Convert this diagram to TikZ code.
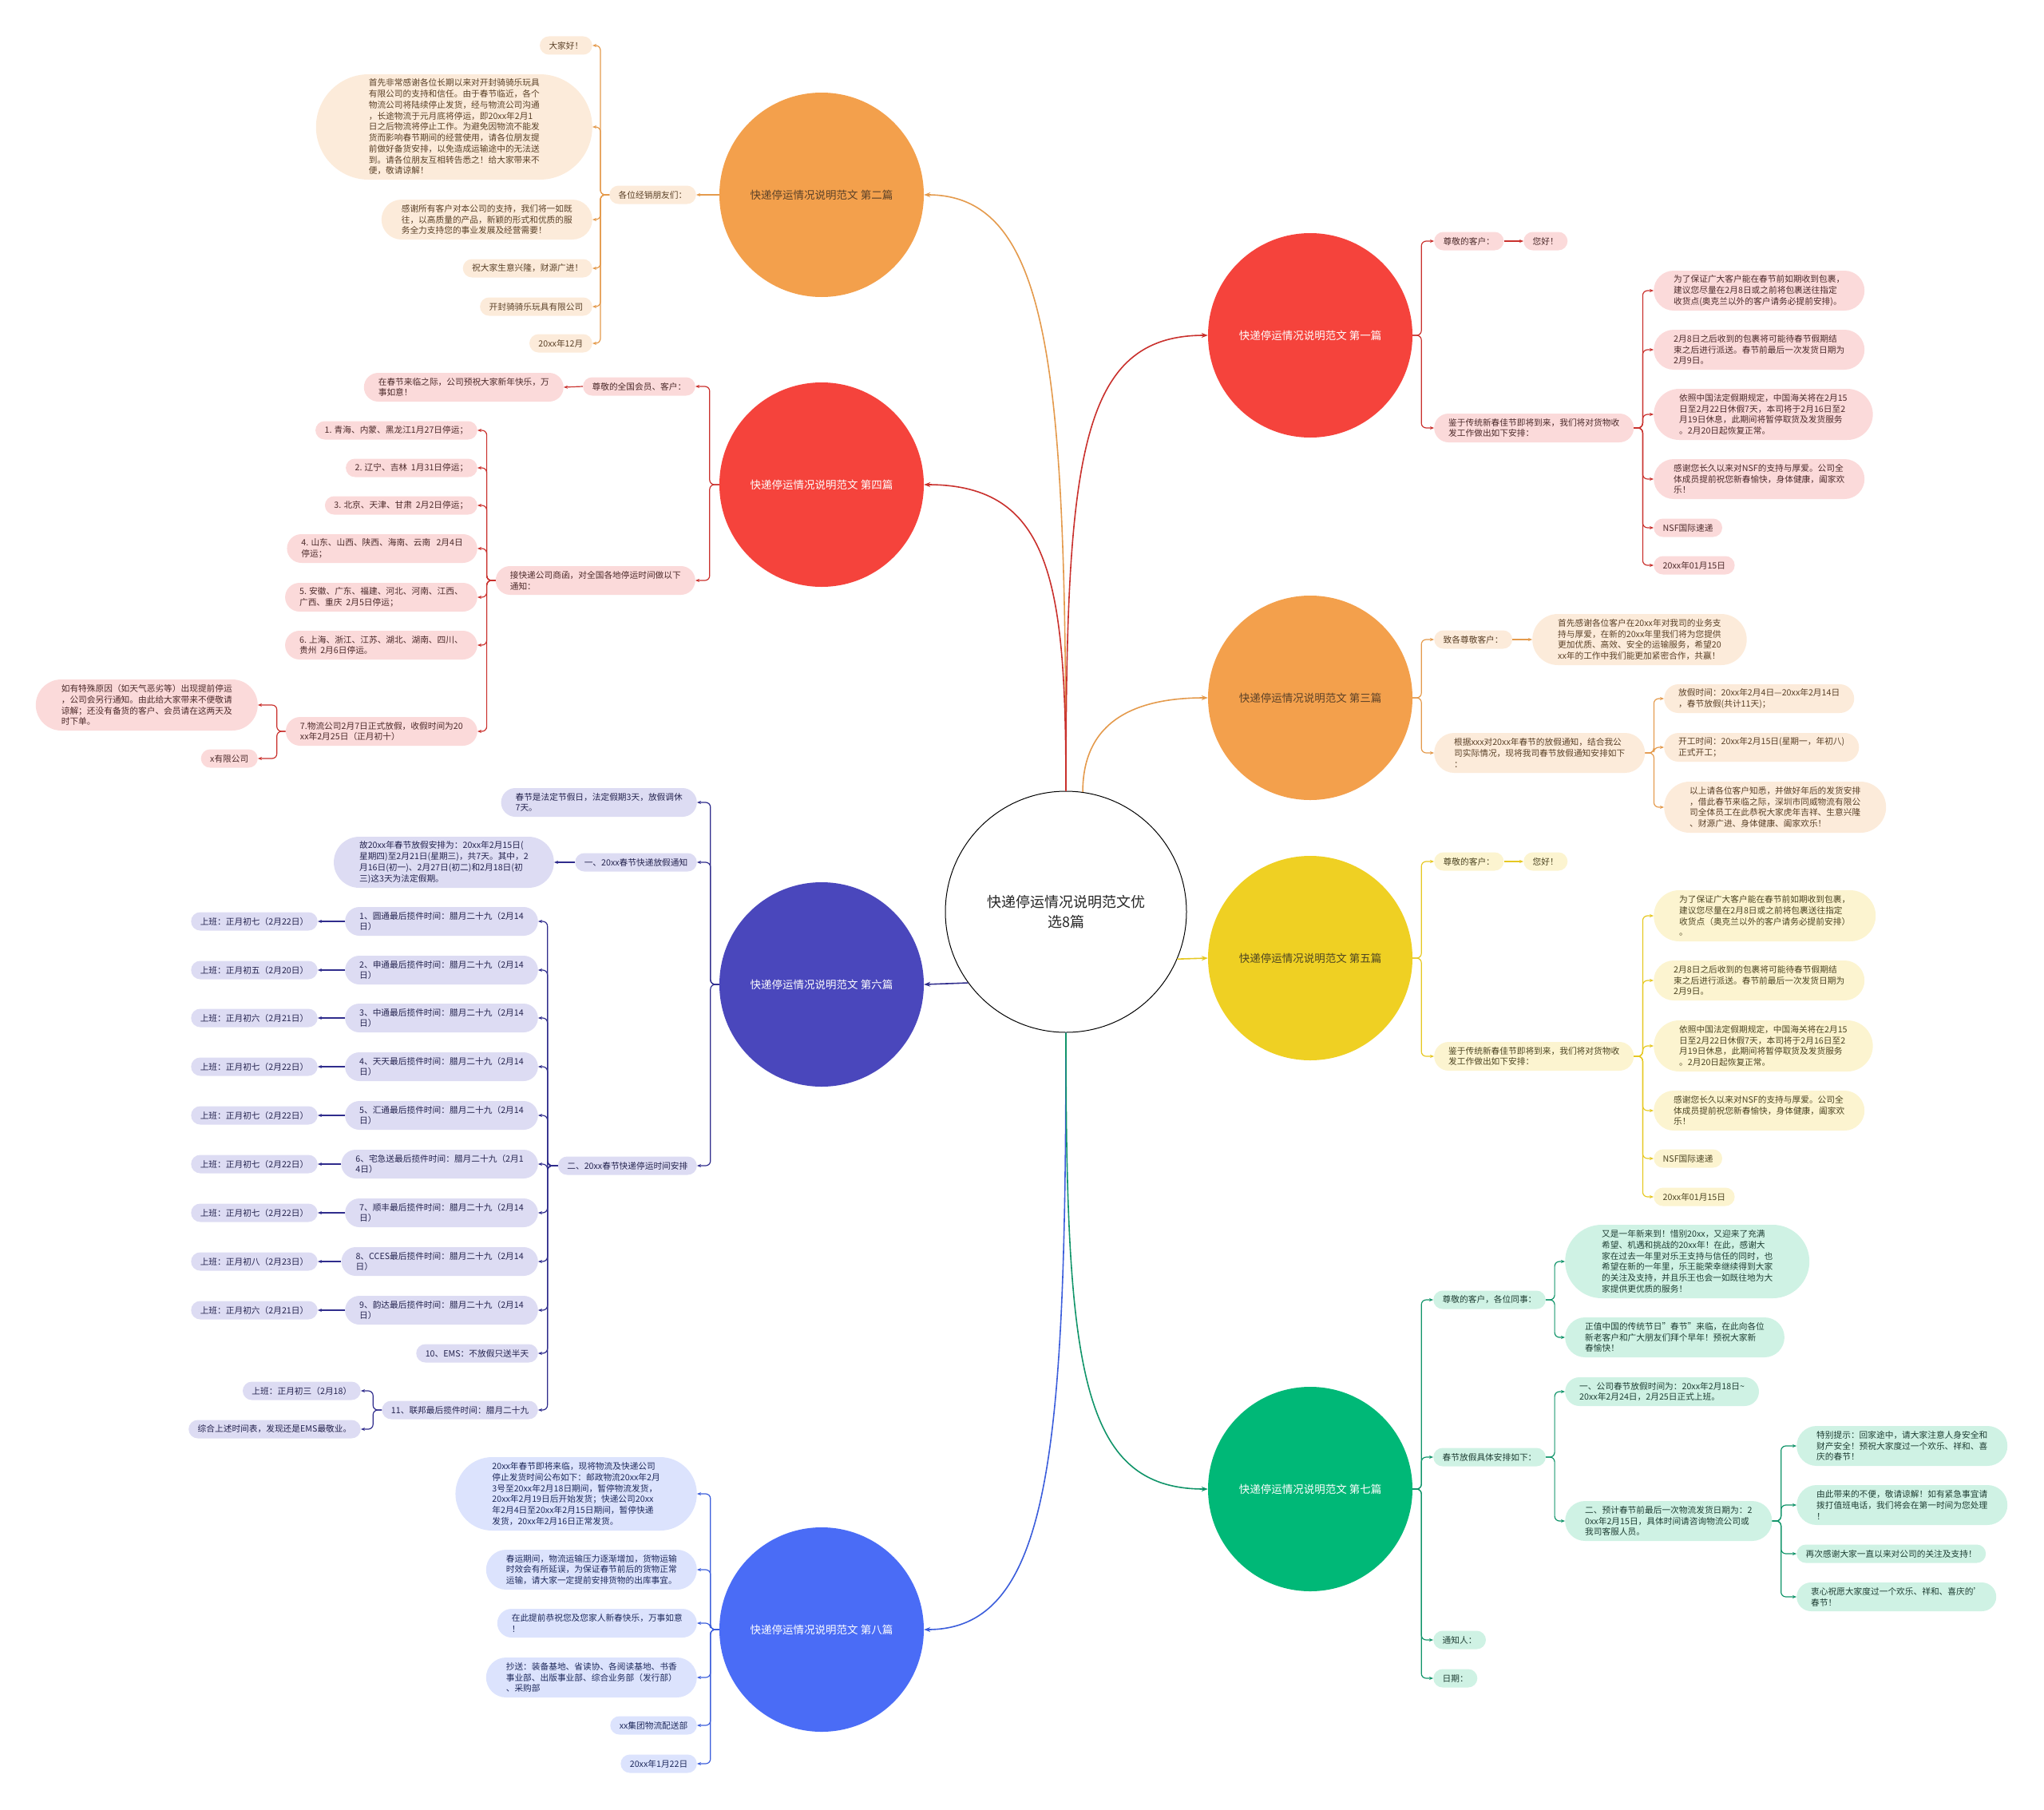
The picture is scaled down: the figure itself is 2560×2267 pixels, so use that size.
\documentclass[tikz,border=0pt]{standalone}
\usepackage{fontspec}
\setmainfont{Noto Sans CJK SC}
\usetikzlibrary{arrows.meta, positioning}

\definecolor{cOr}{HTML}{F3A04C}
\definecolor{cRd}{HTML}{F5433C}
\definecolor{cIn}{HTML}{4A47BC}
\definecolor{cBl}{HTML}{4A6CF6}
\definecolor{cYe}{HTML}{EFD023}
\definecolor{cGr}{HTML}{00B877}
\definecolor{fOr}{HTML}{FCEBDA}
\definecolor{fRd}{HTML}{FBDADA}
\definecolor{fIn}{HTML}{DDDCF3}
\definecolor{fBl}{HTML}{DCE3FD}
\definecolor{fYe}{HTML}{FCF4D0}
\definecolor{fGr}{HTML}{CFF2E4}
\definecolor{lOr}{HTML}{E49A4C}
\definecolor{lRd}{HTML}{C9302C}
\definecolor{lIn}{HTML}{2F2C8C}
\definecolor{lBl}{HTML}{3B5DDB}
\definecolor{lYe}{HTML}{E6C822}
\definecolor{lGr}{HTML}{109469}
\definecolor{tOr}{HTML}{5B4128}
\definecolor{tRd}{HTML}{4D2B2B}
\definecolor{tIn}{HTML}{25244F}
\definecolor{tBl}{HTML}{1F2A5C}
\definecolor{tYe}{HTML}{4D4522}
\definecolor{tGr}{HTML}{203F35}

\begin{document}
\begin{tikzpicture}[x=1pt, y=-1pt, >=Stealth,
    leaf/.style={rectangle, rounded corners=#1, inner xsep=#1, inner ysep=0pt, minimum height=2*#1,
                 align=left, font=\fontsize{10.7}{13.75}\selectfont},
    lOr/.style={leaf=#1, fill=fOr, text=tOr}, lOr/.default=11.5,
    lRd/.style={leaf=#1, fill=fRd, text=tRd}, lRd/.default=11.5,
    lIn/.style={leaf=#1, fill=fIn, text=tIn}, lIn/.default=11.5,
    lBl/.style={leaf=#1, fill=fBl, text=tBl}, lBl/.default=11.5,
    lYe/.style={leaf=#1, fill=fYe, text=tYe}, lYe/.default=11.5,
    lGr/.style={leaf=#1, fill=fGr, text=tGr}, lGr/.default=11.5,
    topic/.style={circle, minimum size=256pt, inner sep=0pt, font=\fontsize{13.5}{16}\selectfont},
    mainln/.style={draw=#1, line width=1.6pt, -{Stealth[length=8pt, width=6pt]}},
    br/.style={draw=#1, line width=1.2pt, rounded corners=6pt, -{Stealth[length=5pt, width=4pt]}}]
\useasboundingbox (0,0) rectangle (2560,2267);

% centre
\node[circle, draw=black, line width=1pt, fill=white, minimum size=302pt, align=center,
      font=\fontsize{18}{25}\selectfont, text=black!85] (root) at (1335,1142) {快递停运情况说明范文优\\选8篇};

% topics
\node[topic, fill=cOr, text=tOr] (c2) at (1029,244) {快递停运情况说明范文 第二篇};
\node[topic, fill=cRd, text=white] (c4) at (1029,607) {快递停运情况说明范文 第四篇};
\node[topic, fill=cIn, text=white] (c6) at (1029,1233) {快递停运情况说明范文 第六篇};
\node[topic, fill=cBl, text=white] (c8) at (1029,2041) {快递停运情况说明范文 第八篇};
\node[topic, fill=cRd, text=white] (c1) at (1641,420) {快递停运情况说明范文 第一篇};
\node[topic, fill=cOr, text=tOr] (c3) at (1641,874) {快递停运情况说明范文 第三篇};
\node[topic, fill=cYe, text=tYe] (c5) at (1641,1200) {快递停运情况说明范文 第五篇};
\node[topic, fill=cGr, text=white] (c7) at (1641,1865) {快递停运情况说明范文 第七篇};

\draw[mainln=lOr] (root.north) .. controls +(0,-520) and +(160,0) .. (c2.east);
\draw[mainln=lRd] (root.north) .. controls +(0,-260) and +(160,0) .. (c4.east);
\draw[mainln=lIn] (root.216) -- (c6.east);
\draw[mainln=lBl] (root.south) .. controls +(0,520) and +(160,0) .. (c8.east);
\draw[mainln=lRd] (root.north) .. controls +(0,-420) and +(-160,0) .. (c1.west);
\draw[mainln=lOr] (root.82) .. controls +(0,-90) and +(-90,0) .. (c3.west);
\draw[mainln=lYe] (root.-23) -- (c5.west);
\draw[mainln=lGr] (root.south) .. controls +(0,420) and +(-160,0) .. (c7.west);

% --- 第二篇
\node[lOr, anchor=east] (c2a) at (872,244) {各位经销朋友们：};
\node[lOr, anchor=east] (c2a1) at (742,57) {大家好！};
\node[lOr=66, anchor=east] (c2a2) at (742,159) {首先非常感谢各位长期以来对开封骑骑乐玩具\\有限公司的支持和信任。由于春节临近，各个\\物流公司将陆续停止发货，经与物流公司沟通\\，长途物流于元月底将停运，即20xx年2月1\\日之后物流将停止工作。为避免因物流不能发\\货而影响春节期间的经营使用，请各位朋友提\\前做好备货安排，以免造成运输途中的无法送\\到。请各位朋友互相转告悉之！给大家带来不\\便，敬请谅解！};
\node[lOr=25, anchor=east] (c2a3) at (742,275) {感谢所有客户对本公司的支持，我们将一如既\\往，以高质量的产品，新颖的形式和优质的服\\务全力支持您的事业发展及经营需要！};
\node[lOr, anchor=east] (c2a4) at (742,336) {祝大家生意兴隆，财源广进！};
\node[lOr, anchor=east] (c2a5) at (742,384) {开封骑骑乐玩具有限公司};
\node[lOr, anchor=east] (c2a6) at (742,430) {20xx年12月};
\draw[br=lOr] (c2.west) -- (c2a.east);
\draw[br=lOr] (c2a.west) -- ++(-11,0) |- (c2a1.east);
\draw[br=lOr] (c2a.west) -- ++(-11,0) |- (c2a2.east);
\draw[br=lOr] (c2a.west) -- ++(-11,0) |- (c2a3.east);
\draw[br=lOr] (c2a.west) -- ++(-11,0) |- (c2a4.east);
\draw[br=lOr] (c2a.west) -- ++(-11,0) |- (c2a5.east);
\draw[br=lOr] (c2a.west) -- ++(-11,0) |- (c2a6.east);

% --- 第四篇
\node[lRd, anchor=east] (c4a) at (871,484) {尊敬的全国会员、客户：};
\node[lRd=18, anchor=east] (c4a1) at (706,485) {在春节来临之际，公司预祝大家新年快乐，万\\事如意！};
\node[lRd=18, anchor=east] (c4b) at (871,727) {接快递公司商函，对全国各地停运时间做以下\\通知：};
\node[lRd, anchor=east] (c4b1) at (598,539) {1. 青海、内蒙、黑龙江1月27日停运；};
\node[lRd, anchor=east] (c4b2) at (598,586) {2. 辽宁、吉林\ \ 1月31日停运；};
\node[lRd, anchor=east] (c4b3) at (598,633) {3. 北京、天津、甘肃\ \ 2月2日停运；};
\node[lRd=18, anchor=east] (c4b4) at (598,687) {4. 山东、山西、陕西、海南、云南\ \ \ 2月4日\\停运；};
\node[lRd=18, anchor=east] (c4b5) at (598,748) {5. 安徽、广东、福建、河北、河南、江西、\\广西、重庆\ \ 2月5日停运；};
\node[lRd=18, anchor=east] (c4b6) at (598,808) {6. 上海、浙江、江苏、湖北、湖南、四川、\\贵州\ \ 2月6日停运。};
\node[lRd=18, anchor=east] (c4b7) at (598,916) {7.物流公司2月7日正式放假，收假时间为20\\xx年2月25日（正月初十）};
\node[lRd=32, anchor=east] (c4b7a) at (323,883) {如有特殊原因（如天气恶劣等）出现提前停运\\，公司会另行通知。由此给大家带来不便敬请\\谅解；还没有备货的客户、会员请在这两天及\\时下单。};
\node[lRd, anchor=east] (c4b7b) at (323,950) {x有限公司};
\draw[br=lRd] (c4.west) -- ++(-12,0) |- (c4a.east);
\draw[br=lRd] (c4.west) -- ++(-12,0) |- (c4b.east);
\draw[br=lRd] (c4a.west) -- (c4a1.east);
\draw[br=lRd] (c4b.west) -- ++(-11,0) |- (c4b1.east);
\draw[br=lRd] (c4b.west) -- ++(-11,0) |- (c4b2.east);
\draw[br=lRd] (c4b.west) -- ++(-11,0) |- (c4b3.east);
\draw[br=lRd] (c4b.west) -- ++(-11,0) |- (c4b4.east);
\draw[br=lRd] (c4b.west) -- ++(-11,0) |- (c4b5.east);
\draw[br=lRd] (c4b.west) -- ++(-11,0) |- (c4b6.east);
\draw[br=lRd] (c4b.west) -- ++(-11,0) |- (c4b7.east);
\draw[br=lRd] (c4b7.west) -- ++(-11,0) |- (c4b7a.east);
\draw[br=lRd] (c4b7.west) -- ++(-11,0) |- (c4b7b.east);

% --- 第六篇
\node[lIn=18, anchor=east] (c6a) at (873,1005) {春节是法定节假日，法定假期3天，放假调休\\7天。};
\node[lIn, anchor=east] (c6b) at (873,1080) {一、20xx春节快递放假通知};
\node[lIn=32, anchor=east] (c6b1) at (694,1080) {故20xx年春节放假安排为：20xx年2月15日(\\星期四)至2月21日(星期三)，共7天。其中，2\\月16日(初一)、2月27日(初二)和2月18日(初\\三)这3天为法定假期。};
\node[lIn, anchor=east] (c6c) at (873,1460) {二、20xx春节快递停运时间安排};
\node[lIn=18, anchor=east] (c6c1) at (674,1154) {1、圆通最后揽件时间：腊月二十九（2月14\\日）};
\node[lIn=18, anchor=east] (c6c2) at (674,1215) {2、申通最后揽件时间：腊月二十九（2月14\\日）};
\node[lIn=18, anchor=east] (c6c3) at (674,1275) {3、中通最后揽件时间：腊月二十九（2月14\\日）};
\node[lIn=18, anchor=east] (c6c4) at (674,1336) {4、天天最后揽件时间：腊月二十九（2月14\\日）};
\node[lIn=18, anchor=east] (c6c5) at (674,1397) {5、汇通最后揽件时间：腊月二十九（2月14\\日）};
\node[lIn=18, anchor=east] (c6c6) at (674,1458) {6、宅急送最后揽件时间：腊月二十九（2月1\\4日）};
\node[lIn=18, anchor=east] (c6c7) at (674,1519) {7、顺丰最后揽件时间：腊月二十九（2月14\\日）};
\node[lIn=18, anchor=east] (c6c8) at (674,1580) {8、CCES最后揽件时间：腊月二十九（2月14\\日）};
\node[lIn=18, anchor=east] (c6c9) at (674,1641) {9、韵达最后揽件时间：腊月二十九（2月14\\日）};
\node[lIn, anchor=east] (c6c10) at (674,1695) {10、EMS：不放假只送半天};
\node[lIn, anchor=east] (c6c11) at (674,1766) {11、联邦最后揽件时间：腊月二十九};
\node[lIn, anchor=east] (c6c1a) at (398,1154) {上班：正月初七（2月22日）};
\node[lIn, anchor=east] (c6c2a) at (398,1215) {上班：正月初五（2月20日）};
\node[lIn, anchor=east] (c6c3a) at (398,1275) {上班：正月初六（2月21日）};
\node[lIn, anchor=east] (c6c4a) at (398,1336) {上班：正月初七（2月22日）};
\node[lIn, anchor=east] (c6c5a) at (398,1397) {上班：正月初七（2月22日）};
\node[lIn, anchor=east] (c6c6a) at (398,1458) {上班：正月初七（2月22日）};
\node[lIn, anchor=east] (c6c7a) at (398,1519) {上班：正月初七（2月22日）};
\node[lIn, anchor=east] (c6c8a) at (398,1580) {上班：正月初八（2月23日）};
\node[lIn, anchor=east] (c6c9a) at (398,1641) {上班：正月初六（2月21日）};
\node[lIn, anchor=east] (c6c11a) at (452,1742) {上班：正月初三（2月18）};
\node[lIn, anchor=east] (c6c11b) at (452,1790) {综合上述时间表，发现还是EMS最敬业。};
\draw[br=lIn] (c6.west) -- ++(-11,0) |- (c6a.east);
\draw[br=lIn] (c6.west) -- ++(-11,0) |- (c6b.east);
\draw[br=lIn] (c6.west) -- ++(-11,0) |- (c6c.east);
\draw[br=lIn] (c6b.west) -- (c6b1.east);
\draw[br=lIn] (c6c.west) -- ++(-13,0) |- (c6c1.east);
\draw[br=lIn] (c6c.west) -- ++(-13,0) |- (c6c2.east);
\draw[br=lIn] (c6c.west) -- ++(-13,0) |- (c6c3.east);
\draw[br=lIn] (c6c.west) -- ++(-13,0) |- (c6c4.east);
\draw[br=lIn] (c6c.west) -- ++(-13,0) |- (c6c5.east);
\draw[br=lIn] (c6c.west) -- ++(-13,0) |- (c6c6.east);
\draw[br=lIn] (c6c.west) -- ++(-13,0) |- (c6c7.east);
\draw[br=lIn] (c6c.west) -- ++(-13,0) |- (c6c8.east);
\draw[br=lIn] (c6c.west) -- ++(-13,0) |- (c6c9.east);
\draw[br=lIn] (c6c.west) -- ++(-13,0) |- (c6c10.east);
\draw[br=lIn] (c6c.west) -- ++(-13,0) |- (c6c11.east);
\draw[br=lIn] (c6c1.west) -- (c6c1a.east);
\draw[br=lIn] (c6c2.west) -- (c6c2a.east);
\draw[br=lIn] (c6c3.west) -- (c6c3a.east);
\draw[br=lIn] (c6c4.west) -- (c6c4a.east);
\draw[br=lIn] (c6c5.west) -- (c6c5a.east);
\draw[br=lIn] (c6c6.west) -- (c6c6a.east);
\draw[br=lIn] (c6c7.west) -- (c6c7a.east);
\draw[br=lIn] (c6c8.west) -- (c6c8a.east);
\draw[br=lIn] (c6c9.west) -- (c6c9a.east);
\draw[br=lIn] (c6c11.west) -- ++(-11,0) |- (c6c11a.east);
\draw[br=lIn] (c6c11.west) -- ++(-11,0) |- (c6c11b.east);

% --- 第八篇
\node[lBl=46, anchor=east] (c8a) at (873,1871) {20xx年春节即将来临，现将物流及快递公司\\停止发货时间公布如下：邮政物流20xx年2月\\3号至20xx年2月18日期间，暂停物流发货，\\20xx年2月19日后开始发货；快递公司20xx\\年2月4日至20xx年2月15日期间，暂停快递\\发货，20xx年2月16日正常发货。};
\node[lBl=25, anchor=east] (c8b) at (873,1966) {春运期间，物流运输压力逐渐增加，货物运输\\时效会有所延误，为保证春节前后的货物正常\\运输，请大家一定提前安排货物的出库事宜。};
\node[lBl=18, anchor=east] (c8c) at (873,2033) {在此提前恭祝您及您家人新春快乐，万事如意\\！};
\node[lBl=25, anchor=east] (c8d) at (873,2101) {抄送：装备基地、省读协、各阅读基地、书香\\事业部、出版事业部、综合业务部（发行部）\\、采购部};
\node[lBl, anchor=east] (c8e) at (873,2161) {xx集团物流配送部};
\node[lBl, anchor=east] (c8f) at (873,2209) {20xx年1月22日};
\draw[br=lBl] (c8.west) -- ++(-11,0) |- (c8a.east);
\draw[br=lBl] (c8.west) -- ++(-11,0) |- (c8b.east);
\draw[br=lBl] (c8.west) -- ++(-11,0) |- (c8c.east);
\draw[br=lBl] (c8.west) -- ++(-11,0) |- (c8d.east);
\draw[br=lBl] (c8.west) -- ++(-11,0) |- (c8e.east);
\draw[br=lBl] (c8.west) -- ++(-11,0) |- (c8f.east);

% --- 第一篇
\node[lRd, anchor=west] (c1a) at (1796,302) {尊敬的客户：};
\node[lRd, anchor=west] (c1a1) at (1908,302) {您好！};
\node[lRd=18, anchor=west] (c1b) at (1796,536) {鉴于传统新春佳节即将到来，我们将对货物收\\发工作做出如下安排：};
\node[lRd=25, anchor=west] (c1b1) at (2071,364) {为了保证广大客户能在春节前如期收到包裹，\\建议您尽量在2月8日或之前将包裹送往指定\\收货点(奥克兰以外的客户请务必提前安排)。};
\node[lRd=25, anchor=west] (c1b2) at (2071,438) {2月8日之后收到的包裹将可能待春节假期结\\束之后进行派送。春节前最后一次发货日期为\\2月9日。};
\node[lRd=32, anchor=west] (c1b3) at (2071,519) {依照中国法定假期规定，中国海关将在2月15\\日至2月22日休假7天，本司将于2月16日至2\\月19日休息，此期间将暂停取货及发货服务\\。2月20日起恢复正常。};
\node[lRd=25, anchor=west] (c1b4) at (2071,600) {感谢您长久以来对NSF的支持与厚爱。公司全\\体成员提前祝您新春愉快，身体健康，阖家欢\\乐！};
\node[lRd, anchor=west] (c1b5) at (2071,661) {NSF国际速递};
\node[lRd, anchor=west] (c1b6) at (2071,708) {20xx年01月15日};
\draw[br=lRd] (c1.east) -- ++(11,0) |- (c1a.west);
\draw[br=lRd] (c1.east) -- ++(11,0) |- (c1b.west);
\draw[br=lRd] (c1a.east) -- (c1a1.west);
\draw[br=lRd] (c1b.east) -- ++(11,0) |- (c1b1.west);
\draw[br=lRd] (c1b.east) -- ++(11,0) |- (c1b2.west);
\draw[br=lRd] (c1b.east) -- ++(11,0) |- (c1b3.west);
\draw[br=lRd] (c1b.east) -- ++(11,0) |- (c1b4.west);
\draw[br=lRd] (c1b.east) -- ++(11,0) |- (c1b5.west);
\draw[br=lRd] (c1b.east) -- ++(11,0) |- (c1b6.west);

% --- 第三篇
\node[lOr, anchor=west] (c3a) at (1796,801) {致各尊敬客户：};
\node[lOr=32, anchor=west] (c3a1) at (1919,801) {首先感谢各位客户在20xx年对我司的业务支\\持与厚爱，在新的20xx年里我们将为您提供\\更加优质、高效、安全的运输服务，希望20\\xx年的工作中我们能更加紧密合作，共赢！};
\node[lOr=25, anchor=west] (c3b) at (1796,943) {根据xxx对20xx年春节的放假通知，结合我公\\司实际情况，现将我司春节放假通知安排如下\\：};
\node[lOr=18, anchor=west] (c3b1) at (2084,875) {放假时间：20xx年2月4日—20xx年2月14日\\，春节放假(共计11天)；};
\node[lOr=18, anchor=west] (c3b2) at (2084,936) {开工时间：20xx年2月15日(星期一，年初八)\\正式开工；};
\node[lOr=32, anchor=west] (c3b3) at (2084,1011) {以上请各位客户知悉，并做好年后的发货安排\\，借此春节来临之际，深圳市同威物流有限公\\司全体员工在此恭祝大家虎年吉祥、生意兴隆\\、财源广进、身体健康、阖家欢乐！};
\draw[br=lOr] (c3.east) -- ++(11,0) |- (c3a.west);
\draw[br=lOr] (c3.east) -- ++(11,0) |- (c3b.west);
\draw[br=lOr] (c3a.east) -- (c3a1.west);
\draw[br=lOr] (c3b.east) -- ++(11,0) |- (c3b1.west);
\draw[br=lOr] (c3b.east) -- ++(11,0) |- (c3b2.west);
\draw[br=lOr] (c3b.east) -- ++(11,0) |- (c3b3.west);

% --- 第五篇
\node[lYe, anchor=west] (c5a) at (1796,1079) {尊敬的客户：};
\node[lYe, anchor=west] (c5a1) at (1908,1079) {您好！};
\node[lYe=18, anchor=west] (c5b) at (1796,1323) {鉴于传统新春佳节即将到来，我们将对货物收\\发工作做出如下安排：};
\node[lYe=32, anchor=west] (c5b1) at (2071,1147) {为了保证广大客户能在春节前如期收到包裹，\\建议您尽量在2月8日或之前将包裹送往指定\\收货点（奥克兰以外的客户请务必提前安排）\\。};
\node[lYe=25, anchor=west] (c5b2) at (2071,1228) {2月8日之后收到的包裹将可能待春节假期结\\束之后进行派送。春节前最后一次发货日期为\\2月9日。};
\node[lYe=32, anchor=west] (c5b3) at (2071,1310) {依照中国法定假期规定，中国海关将在2月15\\日至2月22日休假7天，本司将于2月16日至2\\月19日休息，此期间将暂停取货及发货服务\\。2月20日起恢复正常。};
\node[lYe=25, anchor=west] (c5b4) at (2071,1391) {感谢您长久以来对NSF的支持与厚爱。公司全\\体成员提前祝您新春愉快，身体健康，阖家欢\\乐！};
\node[lYe, anchor=west] (c5b5) at (2071,1451) {NSF国际速递};
\node[lYe, anchor=west] (c5b6) at (2071,1499) {20xx年01月15日};
\draw[br=lYe] (c5.east) -- ++(11,0) |- (c5a.west);
\draw[br=lYe] (c5.east) -- ++(11,0) |- (c5b.west);
\draw[br=lYe] (c5a.east) -- (c5a1.west);
\draw[br=lYe] (c5b.east) -- ++(11,0) |- (c5b1.west);
\draw[br=lYe] (c5b.east) -- ++(11,0) |- (c5b2.west);
\draw[br=lYe] (c5b.east) -- ++(11,0) |- (c5b3.west);
\draw[br=lYe] (c5b.east) -- ++(11,0) |- (c5b4.west);
\draw[br=lYe] (c5b.east) -- ++(11,0) |- (c5b5.west);
\draw[br=lYe] (c5b.east) -- ++(11,0) |- (c5b6.west);

% --- 第七篇
\node[lGr, anchor=west] (c7a) at (1795,1628) {尊敬的客户，各位同事：};
\node[lGr, anchor=west] (c7b) at (1795,1825) {春节放假具体安排如下：};
\node[lGr, anchor=west] (c7c) at (1795,2054) {通知人：};
\node[lGr, anchor=west] (c7d) at (1795,2102) {日期：};
\node[lGr=46, anchor=west] (c7a1) at (1960,1580) {又是一年新来到！惜别20xx，又迎来了充满\\希望、机遇和挑战的20xx年！在此，感谢大\\家在过去一年里对乐王支持与信任的同时，也\\希望在新的一年里，乐王能荣幸继续得到大家\\的关注及支持，并且乐王也会一如既往地为大\\家提供更优质的服务！};
\node[lGr=25, anchor=west] (c7a2) at (1960,1675) {正值中国的传统节日"春节"来临，在此向各位\\新老客户和广大朋友们拜个早年！预祝大家新\\春愉快！};
\node[lGr=18, anchor=west] (c7b1) at (1960,1743) {一、公司春节放假时间为：20xx年2月18日\textasciitilde\\20xx年2月24日，2月25日正式上班。};
\node[lGr=25, anchor=west] (c7b2) at (1960,1905) {二、预计春节前最后一次物流发货日期为：2\\0xx年2月15日，具体时间请咨询物流公司或\\我司客服人员。};
\node[lGr=25, anchor=west] (c7b2a) at (2250,1811) {特别提示：回家途中，请大家注意人身安全和\\财产安全！预祝大家度过一个欢乐、祥和、喜\\庆的春节！};
\node[lGr=25, anchor=west] (c7b2b) at (2250,1885) {由此带来的不便，敬请谅解！如有紧急事宜请\\拨打值班电话，我们将会在第一时间为您处理\\！};
\node[lGr, anchor=west] (c7b2c) at (2250,1946) {再次感谢大家一直以来对公司的关注及支持！};
\node[lGr=18, anchor=west] (c7b2d) at (2250,2000) {衷心祝愿大家度过一个欢乐、祥和、喜庆的'\\春节！};
\draw[br=lGr] (c7.east) -- ++(11,0) |- (c7a.west);
\draw[br=lGr] (c7.east) -- ++(11,0) |- (c7b.west);
\draw[br=lGr] (c7.east) -- ++(11,0) |- (c7c.west);
\draw[br=lGr] (c7.east) -- ++(11,0) |- (c7d.west);
\draw[br=lGr] (c7a.east) -- ++(11,0) |- (c7a1.west);
\draw[br=lGr] (c7a.east) -- ++(11,0) |- (c7a2.west);
\draw[br=lGr] (c7b.east) -- ++(11,0) |- (c7b1.west);
\draw[br=lGr] (c7b.east) -- ++(11,0) |- (c7b2.west);
\draw[br=lGr] (c7b2.east) -- ++(11,0) |- (c7b2a.west);
\draw[br=lGr] (c7b2.east) -- ++(11,0) |- (c7b2b.west);
\draw[br=lGr] (c7b2.east) -- ++(11,0) |- (c7b2c.west);
\draw[br=lGr] (c7b2.east) -- ++(11,0) |- (c7b2d.west);
\end{tikzpicture}
\end{document}
